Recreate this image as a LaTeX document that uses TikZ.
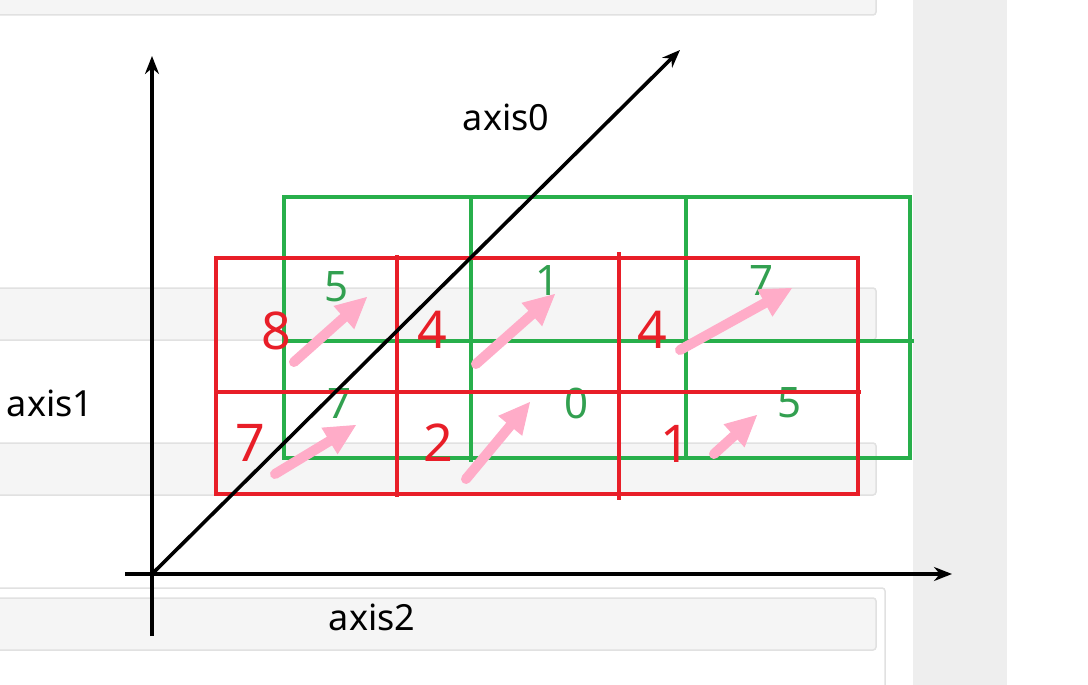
\documentclass[tikz,border=0pt]{standalone}
\usepackage{fontspec}
\setmainfont{Noto Sans}
\usetikzlibrary{arrows.meta}

\definecolor{gridred}{RGB}{232,30,40}
\definecolor{gridgreen}{RGB}{40,175,75}
\definecolor{digitgreen}{RGB}{50,160,80}
\definecolor{movepink}{RGB}{255,172,200}
\definecolor{panelgray}{RGB}{245,245,245}
\definecolor{panelline}{RGB}{225,225,225}
\definecolor{stripgray}{RGB}{238,238,238}

\begin{document}
\begin{tikzpicture}[x=1pt,y=-1pt,
	axis/.style={color=black,line width=3.6pt,-{Stealth[length=18pt,width=14pt]}},
	redline/.style={draw=gridred,line width=3.5pt},
	greenline/.style={draw=gridgreen,line width=3.2pt},
	reddigit/.style={text=gridred,inner sep=0pt,font=\fontsize{52}{52}\selectfont},
	greendigit/.style={text=digitgreen,inner sep=0pt,font=\fontsize{42}{42}\selectfont},
	axislabel/.style={inner sep=0pt,font=\fontsize{36}{36}\selectfont},
	move/.style={color=movepink,line width=10pt,line cap=round,-{Triangle[length=31pt,width=31pt,line width=1pt]}},
	panel/.style={fill=panelgray,draw=panelline,line width=1.5pt,rounded corners=3pt}]

\useasboundingbox (0,0) rectangle (1088,685);
\clip (0,0) rectangle (1088,685);

% page behind the picture
\fill[white] (0,0) rectangle (1088,685);
\fill[stripgray] (913,0) rectangle (1007,685);
\draw[panel] (-5,-5) rectangle (876,15);
\draw[panel] (-5,288) rectangle (876,340);
\draw[panel] (-5,443) rectangle (876,495);
\draw[panelline,line width=1.5pt,fill=white,rounded corners=3pt] (-5,588) rectangle (885,700);
\draw[panel] (-5,598) rectangle (876,650);

% green block
\draw[greenline] (284,197) rectangle (910,458);
\draw[greenline,line width=4pt] (284,341) -- (914,341);
\draw[greenline] (471,197) -- (471,462) (686,197) -- (686,458);

\node[greendigit] (g5a) at (337,287) {5};
\node[greendigit] (g1)  at (548,281) {1};
\node[greendigit] (g7b) at (762,281) {7};
\node[greendigit] (g7a) at (340,404) {7};
\node[greendigit] (g0)  at (577,403) {0};
\node[greendigit] (g5b) at (790,403) {5};

% red block
\draw[redline] (216,258) rectangle (858,494);
\draw[redline,line width=4.5pt] (216,392) -- (861,392);
\draw[redline] (397,255) -- (397,497) (619,252) -- (619,500);

\node[reddigit] (r8)  at (276,331) {8};
\node[reddigit] (r4a) at (432,330) {4};
\node[reddigit] (r4b) at (652,330) {4};
\node[reddigit] (r7)  at (250,443) {7};
\node[reddigit] (r2)  at (438,443) {2};
\node[reddigit] (r1)  at (675,444) {1};

% axes
\coordinate (o)   at (152,574);
\coordinate (a0)  at (680,50);
\coordinate (a1s) at (152,636);
\coordinate (a1)  at (152,56);
\coordinate (a2s) at (125,574);
\coordinate (a2)  at (952,574);

\draw[axis] (o) -- (a0);
\draw[axis,line width=3.2pt] (a1s) -- (a1);
\draw[axis,line width=4.5pt] (a2s) -- (a2);

\node[axislabel] (l0) at (506,117) {axis0};
\node[axislabel] (l1) at (50,403)  {axis1};
\node[axislabel] (l2) at (372,617) {axis2};

% moves
\coordinate (m1s) at (294,362); \coordinate (m1) at (367,297);
\coordinate (m2s) at (275,474); \coordinate (m2) at (356,425);
\coordinate (m3s) at (476,364); \coordinate (m3) at (555,294);
\coordinate (m4s) at (466,479); \coordinate (m4) at (530,402);
\coordinate (m5s) at (680,350); \coordinate (m5) at (792,288);
\coordinate (m6s) at (714,454); \coordinate (m6) at (757,415);

\draw[move] (m1s) -- (m1);
\draw[move] (m2s) -- (m2);
\draw[move] (m3s) -- (m3);
\draw[move] (m4s) -- (m4);
\draw[move] (m5s) -- (m5);
\draw[move] (m6s) -- (m6);
\end{tikzpicture}
\end{document}
